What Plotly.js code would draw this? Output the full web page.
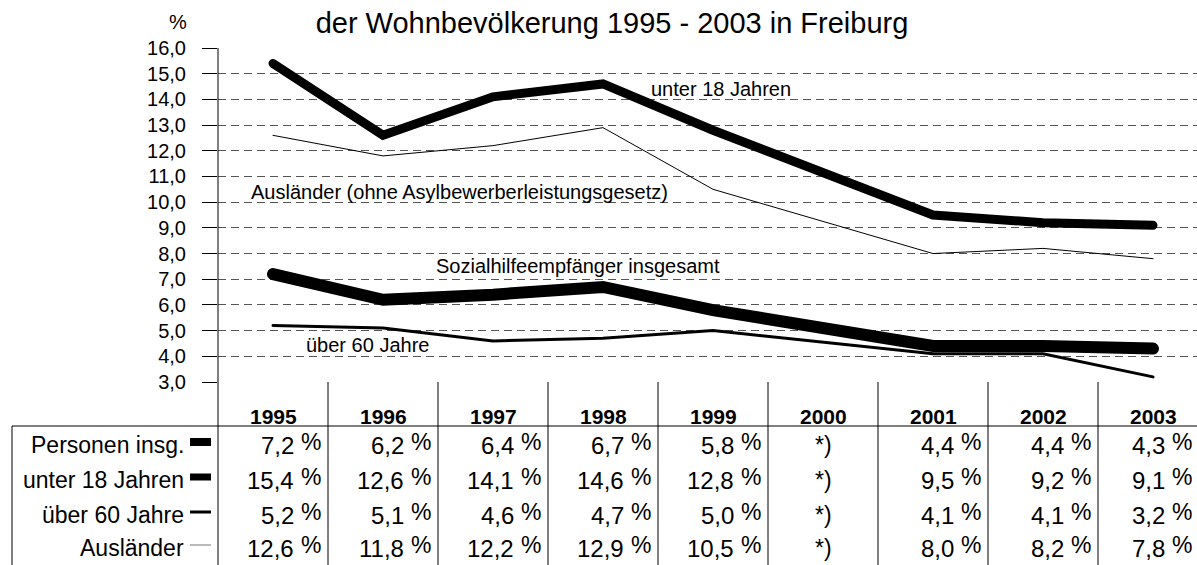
<!DOCTYPE html>
<html>
<head>
<meta charset="utf-8">
<script src="https://cdn.plot.ly/plotly-3.0.1.min.js"></script>
<style>
  html, body { margin: 0; padding: 0; background: #fff; overflow: hidden; }
  #chart { width: 1197px; height: 565px; }
  .scatterlayer .js-line { stroke-linecap: round; }
</style>
</head>
<body>
<div id="chart"></div>
<script>
// ---- data ----
const years = ['1995', '1996', '1997', '1998', '1999', '2000', '2001', '2002', '2003'];
const personenInsg = [7.2, 6.2, 6.4, 6.7, 5.8, null, 4.4, 4.4, 4.3];
const unter18 = [15.4, 12.6, 14.1, 14.6, 12.8, null, 9.5, 9.2, 9.1];
const ueber60 = [5.2, 5.1, 4.6, 4.7, 5.0, null, 4.1, 4.1, 3.2];
const auslaender = [12.6, 11.8, 12.2, 12.9, 10.5, null, 8.0, 8.2, 7.8];
const rowLabels = ['Personen insg.', 'unter 18 Jahren', 'über 60 Jahre', 'Ausländer'];
const lineLabels = ['Sozialhilfeempfänger insgesamt', 'unter 18 Jahren', 'über 60 Jahre', 'Ausländer (ohne Asylbewerberleistungsgesetz)'];
const missingMark = '*)';
const titleText = 'der Wohnbevölkerung 1995 - 2003 in Freiburg';
const yUnit = '%';

// ---- geometry ----
const W = 1197, H = 565;
const L = 218, T = 48, B = 382;
const PW = W - L, PH = B - T;
const COLW = 110;
const FONT = '"Liberation Sans", Arial, sans-serif';
const px = x => (x - L) / PW;     // pixel -> paper x
const py = y => (B - y) / PH;     // pixel -> paper y

const series = [personenInsg, unter18, ueber60, auslaender];
const widths = [12, 9, 3, 1];
const legendWidths = [8, 7, 3, 1];
const legendColors = ['#000', '#000', '#000', '#777'];

const traces = series.map((s, i) => ({
  type: 'scatter', mode: 'lines', x: years, y: s,
  name: rowLabels[i], connectgaps: true,
  line: { color: '#000', width: widths[i] },
  hoverinfo: 'skip'
}));

const annotations = [];
const shapes = [];

// % unit label
annotations.push({ xref: 'paper', yref: 'paper', x: px(178), y: py(22), text: yUnit,
  showarrow: false, xanchor: 'center', yanchor: 'middle', font: { family: FONT, size: 20, color: '#000' } });

// line labels inside plot
const lineLabelPos = [[1.46, 7.52], [3.42, 14.40], [0.28, 4.43], [-0.22, 10.40]];
lineLabels.forEach((t, i) => annotations.push({
  xref: 'x', yref: 'y', x: lineLabelPos[i][0], y: lineLabelPos[i][1], text: t, showarrow: false,
  xanchor: 'left', yanchor: 'middle', font: { family: FONT, size: 20, color: '#000' }
}));

// year header
years.forEach((yr, i) => annotations.push({
  xref: 'x', yref: 'paper', x: i, y: py(416), text: '<b>' + yr + '</b>', showarrow: false,
  xanchor: 'center', yanchor: 'middle', font: { family: FONT, size: 21, color: '#000' }
}));

// table rows
const rowY = [445, 480, 515, 548];
rowLabels.forEach((lab, r) => {
  annotations.push({ xref: 'paper', yref: 'paper', x: px(186), y: py(rowY[r]), text: lab,
    showarrow: false, xanchor: 'right', yanchor: 'middle', font: { family: FONT, size: 23, color: '#000' } });
  shapes.push({ type: 'line', xref: 'paper', yref: 'paper', x0: px(190), x1: px(211),
    y0: py(rowY[r] - 3), y1: py(rowY[r] - 3), line: { color: legendColors[r], width: legendWidths[r] } });
  series[r].forEach((v, i) => {
    // right edge of the "%" sign inside the column, kept inside the window
    const colCenterPx = L + (i + 0.5) * COLW;
    const pctRight = Math.min(colCenterPx + COLW / 2 - 5, W - 3);
    const pctShift = pctRight - colCenterPx;
    if (v === null) {
      annotations.push({ xref: 'x', yref: 'paper', x: i, y: py(rowY[r]), text: missingMark,
        showarrow: false, xanchor: 'center', yanchor: 'middle', font: { family: FONT, size: 23, color: '#000' } });
    } else {
      annotations.push({ xref: 'x', yref: 'paper', x: i, xshift: pctShift - 27, y: py(rowY[r]),
        text: v.toFixed(1).replace('.', ','), showarrow: false, xanchor: 'right', yanchor: 'middle',
        font: { family: FONT, size: 24, color: '#000' } });
      annotations.push({ xref: 'x', yref: 'paper', x: i, xshift: pctShift, y: py(rowY[r]), yshift: 3,
        text: '%', showarrow: false, xanchor: 'right', yanchor: 'middle',
        font: { family: FONT, size: 23, color: '#000' } });
    }
  });
});

// table grid
const bottom = py(H + 10);
shapes.push({ type: 'line', xref: 'paper', yref: 'paper', x0: px(12), x1: 1.01, y0: py(426), y1: py(426), line: { color: '#000', width: 1 } });
shapes.push({ type: 'line', xref: 'paper', yref: 'paper', x0: px(12), x1: px(12), y0: py(426), y1: bottom, line: { color: '#000', width: 1 } });
shapes.push({ type: 'line', xref: 'paper', yref: 'paper', x0: 0, x1: 0, y0: 1, y1: bottom, line: { color: '#000', width: 1 } });
for (let i = 0; i < years.length - 1; i++) {
  shapes.push({ type: 'line', xref: 'x', yref: 'paper', x0: i + 0.5, x1: i + 0.5, y0: 0, y1: bottom, line: { color: '#000', width: 1 } });
}

const layout = {
  width: W, height: H,
  margin: { l: L, r: 0, t: T, b: H - B, pad: 0 },
  paper_bgcolor: '#fff', plot_bgcolor: '#fff',
  separators: ', ',
  showlegend: false,
  font: { family: FONT, color: '#000' },
  title: { text: titleText, font: { family: FONT, size: 29, color: '#000' },
    xref: 'container', x: 612 / W, xanchor: 'center', yref: 'container', y: 1 - 23 / H, yanchor: 'middle' },
  xaxis: { type: 'category', range: [-0.5, -0.5 + PW / COLW], showgrid: false, zeroline: false,
    showline: false, showticklabels: false, ticks: '', fixedrange: true },
  yaxis: { range: [3, 16], dtick: 1, tick0: 3, tickformat: '.1f', showgrid: true, gridcolor: '#555',
    gridwidth: 1, griddash: '8px,5px', zeroline: false, showline: false, ticks: 'outside', ticklen: 15,
    tickcolor: '#000', tickwidth: 1, ticklabelstandoff: 12, tickfont: { family: FONT, size: 20, color: '#000' },
    fixedrange: true },
  annotations: annotations,
  shapes: shapes
};

Plotly.newPlot('chart', traces, layout, { displayModeBar: false, staticPlot: true });
</script>
</body>
</html>
